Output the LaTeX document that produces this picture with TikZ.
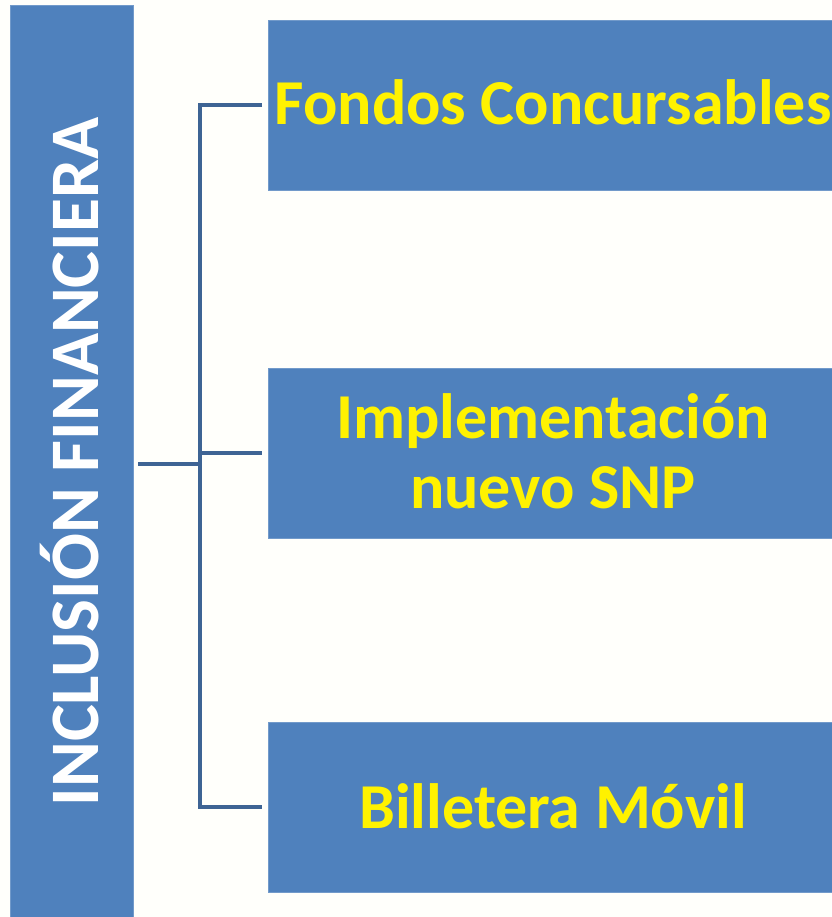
\documentclass[tikz,border=0pt]{standalone}
\usepackage{fontspec}
\setmainfont{Carlito}
\definecolor{boxblue}{HTML}{4F81BD}
\definecolor{linkblue}{HTML}{3E6494}
\definecolor{bgwhite}{HTML}{FFFFFB}
\begin{document}
\begin{tikzpicture}[x=1pt,y=-1pt,
  box/.style={fill=boxblue,draw=boxblue!80!white,line width=0.8pt,inner sep=0pt,outer sep=0pt},
  lbl/.style={text=yellow,font=\bfseries\fontsize{64}{70}\selectfont,align=center},
  link/.style={draw=linkblue,line width=4.5pt}]
\useasboundingbox (0,0) rectangle (831,917);
\fill[bgwhite] (0,0) rectangle (831,917);
% left bar
\path[box] (10,5) rectangle (133,920);
\node[rotate=90,text=white,font=\bfseries\fontsize{69.5}{72}\selectfont] (title) at (70,462) {INCLUSIÓN FINANCIERA};
% boxes
\path[box] (268,20) rectangle (835,190);
\path[box] (268,368) rectangle (835,538);
\path[box] (268,722) rectangle (835,892);
\node[lbl] (b1) at (553,102) {Fondos Concursables};
\node[lbl] (b2) at (553,451) {Implementación\\nuevo SNP};
\node[lbl] (b3) at (553,806) {Billetera Móvil};
% connectors
\coordinate (s) at (138,464);
\coordinate (j) at (200,464);
\coordinate (e1) at (262,105);
\coordinate (e2) at (262,453);
\coordinate (e3) at (262,807);
\draw[link] (s) -- (j);
\draw[link] (e1) -| (j) |- (e3);
\draw[link] (j |- e2) -- (e2);
\end{tikzpicture}
\end{document}
